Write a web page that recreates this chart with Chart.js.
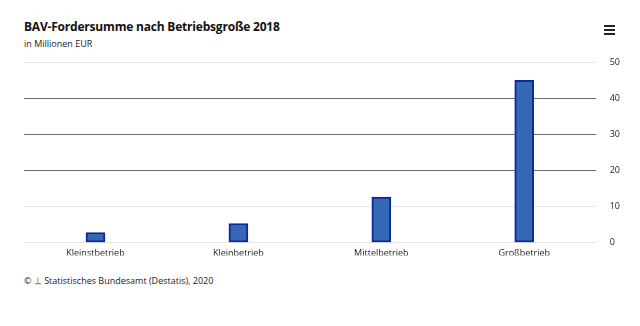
<!DOCTYPE html>
<html>
<head>
<meta charset="utf-8">
<script src="https://cdn.jsdelivr.net/npm/chart.js@4"></script>
<style>
  body { margin: 0; background: #fff; font-family: "Open Sans", sans-serif; }
  #wrap { position: relative; width: 640px; height: 326px; overflow: hidden; }
  #title { position: absolute; left: 24px; top: 18px; font-size: 12px; font-weight: bold; color: #111; letter-spacing: -0.2px; }
  #sub { position: absolute; left: 24px; top: 37px; font-size: 9px; color: #222; }
  #menu { position: absolute; left: 604px; top: 25px; width: 11px; }
  #menu div { height: 2px; background: #222; margin-bottom: 2px; }
  #credit { position: absolute; left: 24px; top: 274px; font-size: 9px; color: #222; }
  #chartBox { position: absolute; left: 0; top: 43px; width: 640px; height: 219px; }
</style>
</head>
<body>
<div id="wrap">
  <div id="title">BAV-Fordersumme nach Betriebsgroße 2018</div>
  <div id="sub">in Millionen EUR</div>
  <div id="menu"><div></div><div></div><div></div></div>
  <div id="credit">© <span style="color:#c80;font-weight:bold">⊥</span> Statistisches Bundesamt (Destatis), 2020</div>
  <div id="chartBox"><canvas id="myBarChart"></canvas></div>
</div>
<script>
const categories = ['Kleinstbetrieb', 'Kleinbetrieb', 'Mittelbetrieb', 'Großbetrieb'];
const values = [2.8, 5.3, 12.6, 45.0];
const yTicks = [0, 10, 20, 30, 40, 50];

const data = {
  labels: categories,
  datasets: [{
    label: 'BAV-Fordersumme',
    data: values,
    backgroundColor: '#3567b5',
    borderColor: '#0a2a9a',
    borderWidth: 2,
    borderSkipped: false,
    barThickness: 19
  }]
};

const config = {
  type: 'bar',
  data: data,
  options: {
    responsive: true,
    maintainAspectRatio: false,
    animation: false,
    layout: { padding: { top: 1, left: 24, right: 6, bottom: 0 } },
    plugins: { legend: { display: false }, tooltip: { enabled: false } },
    scales: {
      x: {
        grid: { display: false },
        border: { color: '#e6e6e6' },
        ticks: { color: '#222', font: { family: 'Open Sans', size: 9 }, padding: -3 }
      },
      y: {
        position: 'right',
        min: 0,
        max: 50,
        afterBuildTicks: axis => { axis.ticks = yTicks.map(v => ({ value: v })); },
        grid: {
          color: c => (c.tick && c.tick.value >= 20 && c.tick.value <= 40) ? '#6e6e6e' : '#e8e8e8',
          drawTicks: false
        },
        border: { display: false },
        ticks: { color: '#222', font: { family: 'Open Sans', size: 9 }, padding: 14 }
      }
    }
  }
};

new Chart(document.getElementById('myBarChart'), config);
</script>
</body>
</html>
